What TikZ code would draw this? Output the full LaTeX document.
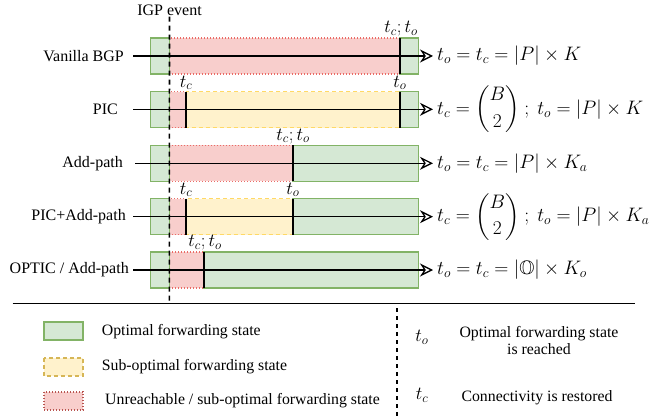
\RequirePackage{fix-cm}
\documentclass[tikz,border=0pt]{standalone}
\usepackage{amsmath,amssymb}
\usepackage{fontspec}
\setmainfont{Liberation Serif}
\usetikzlibrary{arrows.meta}

\definecolor{optfill}{HTML}{D5E8D4}
\definecolor{optline}{HTML}{82B366}
\definecolor{subfill}{HTML}{FFF2CC}
\definecolor{subline}{HTML}{D6B656}
\definecolor{subbar}{HTML}{FFD966}
\definecolor{unrfill}{HTML}{F8CECC}
\definecolor{unrline}{HTML}{B85450}
\definecolor{unrbar}{HTML}{EA6B66}

\tikzset{
  optbox/.style={draw=optline,fill=optfill,line width=1.4pt},
  subbox/.style={draw=subbar,fill=subfill,line width=1.3pt,dash pattern=on 4pt off 3pt},
  unrbox/.style={draw=unrbar,fill=unrfill,line width=1.3pt,dash pattern=on 1pt off 2pt},
  rowlabel/.style={anchor=east,inner sep=0pt,font=\fontsize{16}{18}\selectfont},
  eqlabel/.style={anchor=west,inner sep=4pt,font=\fontsize{19.5}{22}\selectfont},
  tlabel/.style={anchor=south,inner sep=1.5pt,font=\fontsize{18.5}{20}\selectfont},
  legtext/.style={anchor=west,inner sep=0pt,font=\fontsize{15.8}{18}\selectfont},
  timeline/.style={line width=1.3pt,-{Stealth[open,length=13pt,width=13pt,line width=1.3pt]}},
  marker/.style={line width=2pt},
}

\begin{document}
\begin{tikzpicture}[x=1pt,y=-1pt]
    \useasboundingbox (0,0) rectangle (654,417);

    % Vanilla BGP
    \draw[unrbox] (169.3,38) rectangle (400,74);
    \draw[optbox] (150.7,38) rectangle (169.3,74);
    \draw[optbox] (400,38) rectangle (418.3,74);
    \draw[marker] (400,38) -- (400,74);
    \node[tlabel] (vanilla-t) at (401,38) {$t_c;t_o$};
    \node[rowlabel] (vanilla) at (124,56) {Vanilla BGP};
    \coordinate (vanilla-start) at (133,56);
    \node[eqlabel] (vanilla-eq) at (433,56) {$t_o=t_c=|P|\times K$};
    \draw[timeline] (vanilla-start) -- (vanilla-eq.west);

    % PIC
    \draw[unrbox] (169.3,91.7) rectangle (185.7,127.7);
    \draw[subbox] (185.7,91.7) rectangle (400,127.7);
    \draw[optbox] (150.7,91.7) rectangle (169.3,127.7);
    \draw[optbox] (400,91.7) rectangle (418.3,127.7);
    \draw[marker] (185.7,91.7) -- (185.7,127.7);
    \draw[marker] (400,91.7) -- (400,127.7);
    \node[tlabel] (pic-tc) at (186,91.7) {$t_c$};
    \node[tlabel] (pic-to) at (400,91.7) {$t_o$};
    \node[rowlabel] (pic) at (118,109.3) {PIC};
    \coordinate (pic-start) at (133,109.3);
    \node[eqlabel] (pic-eq) at (433,109.3) {$t_c=\dbinom{B}{2}\ ;\ t_o=|P|\times K$};
    \draw[timeline] (pic-start) -- (pic-eq.west);

    % Add-path
    \draw[unrbox] (169.3,145.3) rectangle (292.7,181.3);
    \draw[optbox] (150.7,145.3) rectangle (169.3,181.3);
    \draw[optbox] (292.7,145.3) rectangle (418.3,181.3);
    \draw[marker] (292.7,145.3) -- (292.7,181.3);
    \node[tlabel] (add-t) at (293,145.3) {$t_c;t_o$};
    \node[rowlabel] (add) at (123,163.3) {Add-path};
    \coordinate (add-start) at (135,163.3);
    \node[eqlabel] (add-eq) at (433,163.3) {$t_o=t_c=|P|\times K_a$};
    \draw[timeline] (add-start) -- (add-eq.west);

    % PIC+Add-path
    \draw[unrbox] (169.3,198.7) rectangle (185.7,234.7);
    \draw[subbox] (185.7,198.7) rectangle (292.7,234.7);
    \draw[optbox] (150.7,198.7) rectangle (169.3,234.7);
    \draw[optbox] (292.7,198.7) rectangle (418.3,234.7);
    \draw[marker] (185.7,198.7) -- (185.7,234.7);
    \draw[marker] (292.7,198.7) -- (292.7,234.7);
    \node[tlabel] (picadd-tc) at (186,198.7) {$t_c$};
    \node[tlabel] (picadd-to) at (293,198.7) {$t_o$};
    \node[rowlabel] (picadd) at (126,216.7) {PIC+Add-path};
    \coordinate (picadd-start) at (133,216.7);
    \node[eqlabel] (picadd-eq) at (433,216.7) {$t_c=\dbinom{B}{2}\ ;\ t_o=|P|\times K_a$};
    \draw[timeline] (picadd-start) -- (picadd-eq.west);

    % OPTIC / Add-path
    \draw[unrbox] (169.3,252) rectangle (204,288);
    \draw[optbox] (150.7,252) rectangle (169.3,288);
    \draw[optbox] (204,252) rectangle (418.3,288);
    \draw[marker] (204,252) -- (204,288);
    \node[tlabel] (optic-t) at (205,252) {$t_c;t_o$};
    \node[rowlabel] (optic) at (129,270) {OPTIC / Add-path};
    \coordinate (optic-start) at (133,270);
    \node[eqlabel] (optic-eq) at (433,270) {$t_o=t_c=|\mathbb{O}|\times K_o$};
    \draw[timeline] (optic-start) -- (optic-eq.west);

    % IGP event
    \node[font=\fontsize{16}{18}\selectfont,inner sep=1pt] (igp) at (169.5,10) {IGP event};
    \coordinate (igp-end) at (169.3,302);
    \draw[line width=1.6pt,dash pattern=on 5pt off 4pt] (igp.south) -- (igp-end);

    % legend
    \draw[line width=1.5pt] (12.7,303.5) -- (635,303.5);
    \draw[line width=1.3pt,dash pattern=on 4pt off 4pt] (397,308) -- (397,417);

    \draw[optbox] (44,322) rectangle (83,340);
    \node[legtext] (leg-opt) at (101.7,332) {Optimal forwarding state};
    \draw[subbox,draw=subline] (44,358) rectangle (83,376);
    \node[legtext] (leg-sub) at (101.7,367) {Sub-optimal forwarding state};
    \draw[unrbox,draw=unrline] (44,392) rectangle (83,410);
    \node[legtext] (leg-unr) at (105,401) {Unreachable / sub-optimal forwarding state};

    \node[font=\fontsize{18.5}{20}\selectfont] (leg-to) at (422,337) {$t_o$};
    \node[font=\fontsize{15.8}{17}\selectfont,align=center] (leg-to-text) at (539,341) {Optimal forwarding state\\is reached};
    \node[font=\fontsize{18.5}{20}\selectfont] (leg-tc) at (422,395) {$t_c$};
    \node[font=\fontsize{15.8}{17}\selectfont] (leg-tc-text) at (537,398) {Connectivity is restored};
\end{tikzpicture}
\end{document}
